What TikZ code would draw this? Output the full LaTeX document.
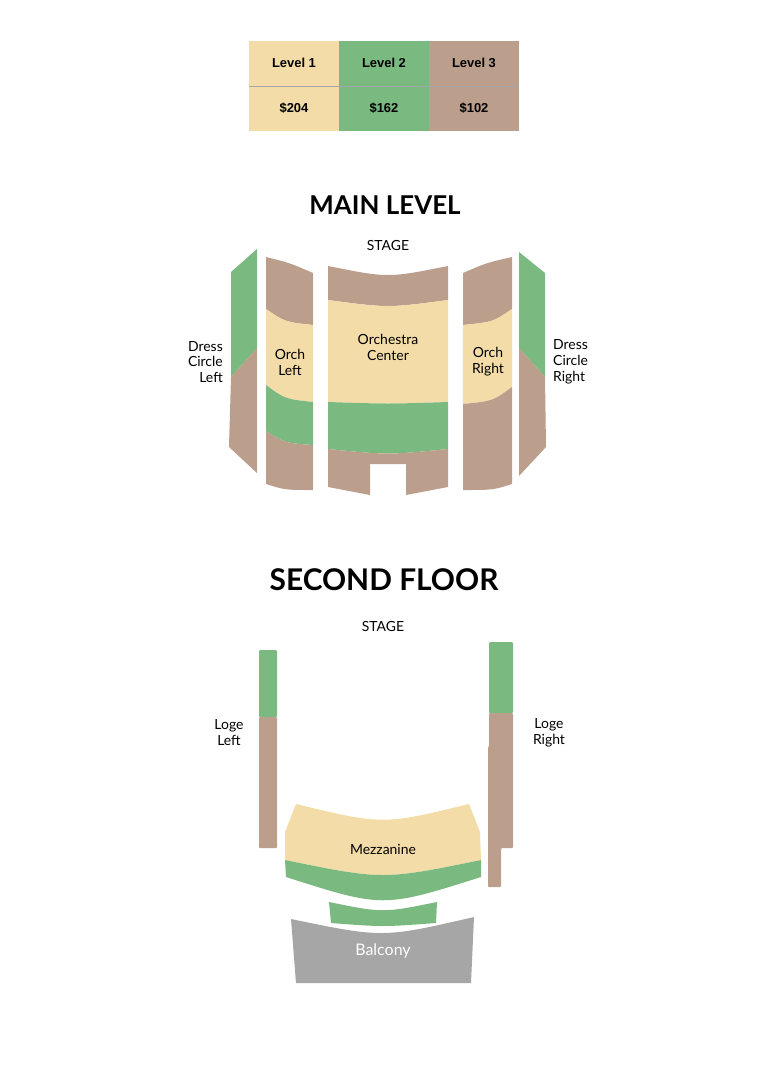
\documentclass[tikz,border=0pt]{standalone}
\usepackage{fontspec}
\setmainfont{Lato}
\newfontfamily\tabfont{Liberation Sans}
\definecolor{lvlone}{HTML}{F3DCA8}
\definecolor{lvltwo}{HTML}{7AB97F}
\definecolor{lvlthree}{HTML}{BC9E8C}
\definecolor{balc}{HTML}{A6A6A6}
\begin{document}
\begin{tikzpicture}[x=1bp,y=-1bp,
  lbl/.style={font=\fontsize{14}{16}\selectfont,align=center,inner sep=0pt},
  ttl/.style={font=\fontsize{26}{30}\selectfont\bfseries,inner sep=0pt},
  cell/.style={font=\tabfont\bfseries\fontsize{13}{15}\selectfont,inner sep=0pt}]
\useasboundingbox (0,0) rectangle (768,1091);
% price table
\fill [lvlone](249,41) rectangle (339,131);
\fill [lvltwo](339,41) rectangle (429,131);
\fill [lvlthree](429,41) rectangle (519,131);
\draw [black!35, thin](249,86) -- (519,86);
\node [cell] (l1) at (294,63) {Level 1};
\node [cell] (l2) at (384,63) {Level 2};
\node [cell] (l3) at (474,63) {Level 3};
\node [cell] (p1) at (294,108) {\$204};
\node [cell] (p2) at (384,108) {\$162};
\node [cell] (p3) at (474,108) {\$102};
% main level
\node [ttl] (main) at (385,205) {MAIN LEVEL};
\node [lbl] (stage1) at (388,245) {STAGE};
\fill [lvltwo](231,272) -- (257,249) -- (257,348) -- (231,377) -- cycle;
\fill [lvlthree](231,377) -- (257,348) -- (257,473) -- (229,447) -- cycle;
\fill [lvltwo](519,252) -- (545,273) -- (545,377) -- (519,348) -- cycle;
\fill [lvlthree](519,348) -- (545,377) -- (546,447) -- (519,476) -- cycle;
% orch left
\fill [lvlthree](266,257) .. controls (290,263) .. (313,273) -- (313,325) .. controls (285,322) .. (266,309) -- cycle;
\fill [lvlone](266,309) .. controls (285,322) .. (313,325) -- (313,402) .. controls (285,399) .. (266,385) -- cycle;
\fill [lvltwo](266,385) .. controls (285,399) .. (313,402) -- (313,445) .. controls (285,443) .. (266,431) -- cycle;
\fill [lvlthree](266,431) .. controls (285,443) .. (313,445) -- (313,490) .. controls (285,490) .. (266,484) -- cycle;
% orchestra center
\fill [lvlthree](328,266) .. controls (388,278) .. (448,266) -- (448,300) .. controls (388,308) .. (328,300) -- cycle;
\fill [lvlone](328,300) .. controls (388,308) .. (448,300) -- (448,402) .. controls (388,404) .. (328,402) -- cycle;
\fill [lvltwo](328,402) .. controls (388,404) .. (448,402) -- (448,449) .. controls (388,455) .. (328,449) -- cycle;
\fill [lvlthree](328,449) .. controls (388,455) .. (448,449) -- (448,487) -- (406,495) -- (406,464) -- (370,464) -- (370,495) -- (328,487) -- cycle;
% orch right
\fill [lvlthree](463,273) .. controls (486,263) .. (512,257) -- (512,309) .. controls (493,322) .. (463,325) -- cycle;
\fill [lvlone](463,325) .. controls (493,322) .. (512,309) -- (512,387) .. controls (493,401) .. (463,404) -- cycle;
\fill [lvlthree](463,404) .. controls (493,401) .. (512,387) -- (512,484) .. controls (493,490) .. (463,490) -- cycle;
\node [lbl, align=right, anchor=east] (dcl) at (223,362) {Dress\\Circle\\Left};
\node [lbl] (ol) at (290,362) {Orch\\Left};
\node [lbl] (oc) at (388,347) {Orchestra\\Center};
\node [lbl] (or) at (488,362) {Orch\\Right};
\node [lbl, align=left, anchor=west] (dcr) at (553,362) {Dress\\Circle\\Right};
% second floor
\node [ttl, font=\fontsize{30}{34}\selectfont\bfseries] (second) at (384,580) {SECOND FLOOR};
\node [lbl] (stage2) at (383,626) {STAGE};
\fill [lvltwo, rounded corners=1pt](259,650) rectangle (277,717);
\fill [lvlthree, rounded corners=1pt](259,717) rectangle (277,848);
\fill [lvltwo, rounded corners=1pt](489,642) rectangle (513,713);
\fill [lvlthree, rounded corners=1pt](489,713) -- (513,713) -- (513,848) -- (501,848) -- (501,887) -- (488,887) -- (488,747) -- (489,747) -- cycle;
\fill [lvlone](296,804) .. controls (383,825) .. (469,804) -- (480,832) -- (481,860) .. controls (383,880) .. (285,860) -- (285,832) -- cycle;
\fill [lvltwo](285,860) .. controls (383,880) .. (481,860) -- (481,877) .. controls (383,908) .. (286,877) -- cycle;
\fill [lvltwo](329,902) .. controls (383,913) .. (437,902) -- (436,923) .. controls (383,927) .. (331,923) -- cycle;
\fill [balc](291,919) .. controls (383,938) .. (474,917) -- (471,983) -- (296,983) -- cycle;
\node [lbl] (ll) at (229,733) {Loge\\Left};
\node [lbl] (lr) at (549,733) {Loge\\Right};
\node [lbl] (mezz) at (383,849) {Mezzanine};
\node [lbl, text=white, font=\fontsize{16}{18}\selectfont] (balcony) at (383,951) {Balcony};
\end{tikzpicture}
\end{document}
